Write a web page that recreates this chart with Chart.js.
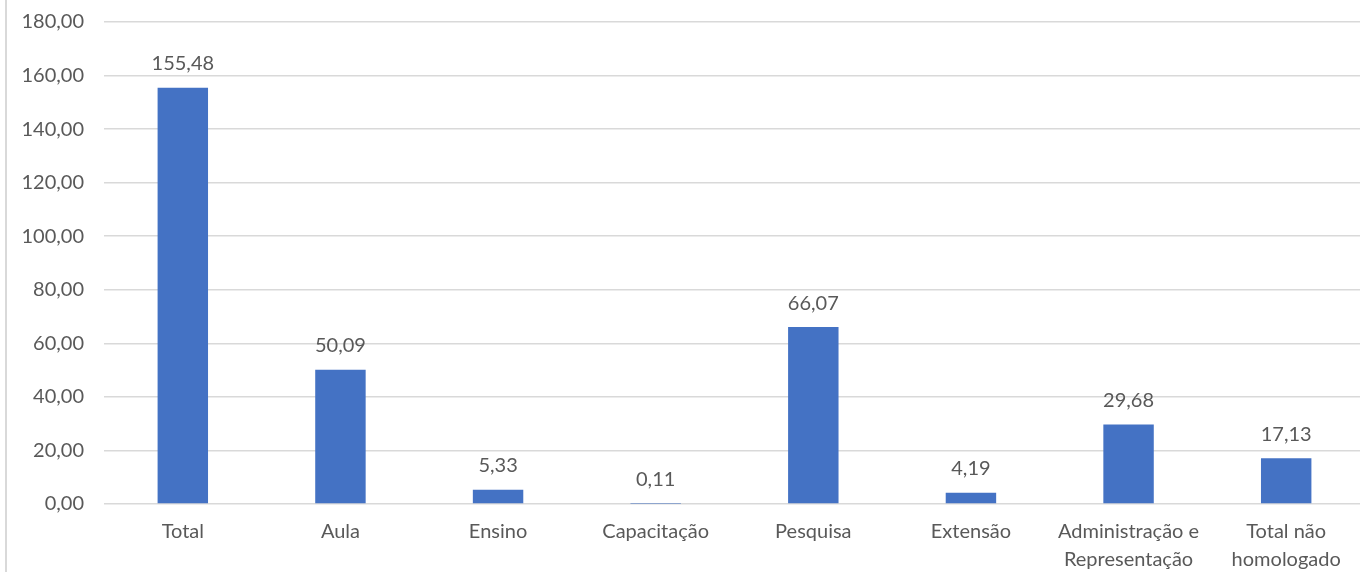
<!DOCTYPE html>
<html>
<head>
<meta charset="utf-8">
<script src="https://cdn.jsdelivr.net/npm/chart.js@4"></script>
<style>
    html, body { margin: 0; padding: 0; background: #fff; overflow: hidden; }
    #wrap { position: relative; width: 1365px; height: 572px; overflow: hidden; }
    #box { position: absolute; left: 0; top: -10px; width: 1365px; height: 582px; }
    #edge { position: absolute; left: 5px; top: 0; width: 2px; height: 572px; background: #d9d9d9; }
</style>
</head>
<body>
<div id="wrap">
    <div id="edge"></div>
    <div id="box"><canvas id="chart"></canvas></div>
</div>
<script>
// Chart data
const categories = ['Total', 'Aula', 'Ensino', 'Capacitação', 'Pesquisa', 'Extensão', ['Administração e', 'Representação'], ['Total não', 'homologado']];
const values = [155.48, 50.09, 5.33, 0.11, 66.07, 4.19, 29.68, 17.13];
const yTicks = [0, 20, 40, 60, 80, 100, 120, 140, 160, 180];

const textColor = '#595959';
const fontFamily = 'Lato, "Open Sans", sans-serif';

function fmt(v) {
    return v.toFixed(2).replace('.', ',');
}

/**
 * Value labels above bars
 */
const barLabels = {
    id: 'barLabels',
    afterDatasetsDraw(chart) {
        const ctx = chart.ctx;
        const meta = chart.getDatasetMeta(0);
        ctx.save();
        ctx.fillStyle = textColor;
        ctx.font = '20px ' + fontFamily;
        ctx.textAlign = 'center';
        ctx.textBaseline = 'middle';
        meta.data.forEach((bar, i) => {
            ctx.fillText(fmt(values[i]), bar.x, bar.y - 24);
        });
        ctx.restore();
    }
};

new Chart(document.getElementById('chart'), {
    type: 'bar',
    data: {
        labels: categories,
        datasets: [{
            data: values,
            backgroundColor: '#4472C4',
            borderWidth: 0,
            categoryPercentage: 1,
            barPercentage: 0.32
        }]
    },
    options: {
        responsive: true,
        maintainAspectRatio: false,
        animation: false,
        layout: { padding: { top: 12, right: 0, left: 0, bottom: 0 } },
        plugins: {
            legend: { display: false },
            tooltip: { enabled: false }
        },
        scales: {
            x: {
                grid: { display: false, drawTicks: false },
                border: { display: false },
                ticks: {
                    color: textColor,
                    font: { family: fontFamily, size: 20, lineHeight: 1.4 },
                    maxRotation: 0,
                    autoSkip: false,
                    padding: 14
                },
                afterFit(scale) { scale.height = 68; }
            },
            y: {
                min: 0,
                max: 180,
                afterBuildTicks(scale) {
                    scale.ticks = yTicks.map(v => ({ value: v }));
                },
                grid: { color: '#d9d9d9', lineWidth: 1.5, drawTicks: false },
                border: { display: false },
                ticks: {
                    color: textColor,
                    font: { family: fontFamily, size: 20 },
                    padding: 20,
                    callback: v => fmt(v)
                },
                afterFit(scale) { scale.width = 104; }
            }
        }
    },
    plugins: [barLabels]
});
</script>
</body>
</html>
